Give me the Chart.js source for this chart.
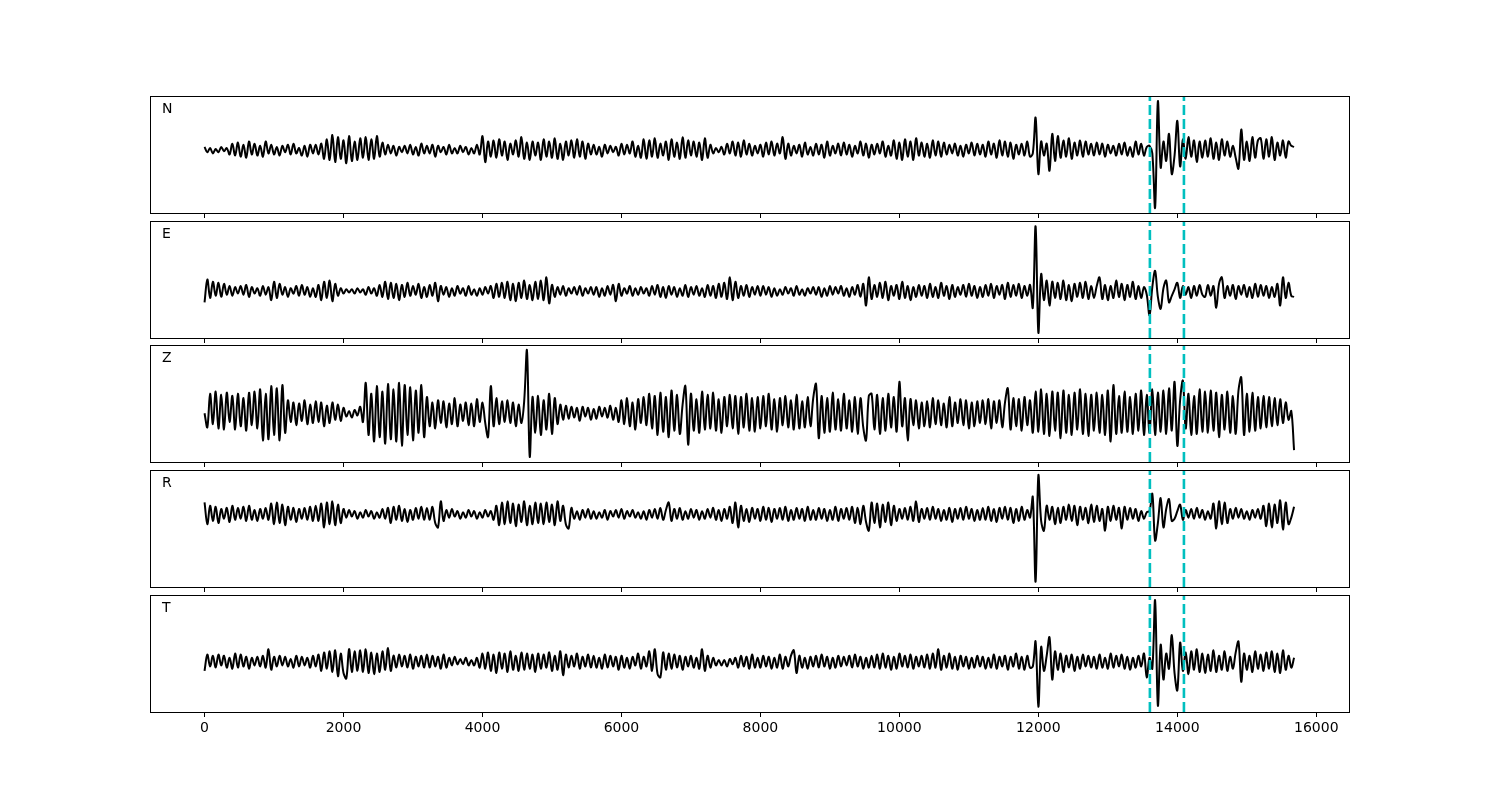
<!DOCTYPE html>
<html>
<head>
<meta charset="utf-8">
<script src="https://cdn.jsdelivr.net/npm/chart.js@4.4.1/dist/chart.umd.min.js"></script>
<style>
  html, body { margin: 0; padding: 0; background: #fff; }
  #wrap { position: relative; width: 1500px; height: 800px; overflow: hidden; }
  #wrap canvas { position: absolute; left: 0; }
</style>
</head>
<body>
<div id="wrap"></div>
<script>
// sample spacing of the traces (x units per value)
const STEP = 40;
const X_MIN = -785;
const X_MAX = 16485;
const X_TICKS = [0, 2000, 4000, 6000, 8000, 10000, 12000, 14000, 16000];
// dashed picks
const PICKS = [13605, 14095];
const PANEL_NAMES = ['N', 'E', 'Z', 'R', 'T'];

// traces, one value every STEP, starting at x = 0
const N_VALUES = [
  3,-2,2,-3,1,-2,3,-1,2,-4,6,-5,7,-6,5,-7,8,-4,6,-5,
  4,-6,8,-3,5,-4,3,-5,4,-2,5,-4,6,-3,2,-5,4,-6,5,-3,
  5,-4,6,-8,10,-9,14,-11,12,-8,9,-12,13,-10,8,-9,11,-7,12,-9,
  10,-8,13,-6,7,-4,5,-3,4,-5,3,-2,4,-3,5,-4,3,-5,6,-3,
  4,-3,5,-6,4,-2,3,-4,5,-3,2,-3,4,-2,3,-4,2,-3,5,-4,
  13,-11,8,-6,9,-7,10,-5,8,-9,6,-4,9,-6,12,-8,7,-9,8,-5,
  7,-9,10,-6,8,-7,11,-8,6,-9,8,-5,9,-7,10,-6,8,-8,6,-4,
  5,-4,3,-6,5,-3,4,-2,3,-5,6,-4,5,-3,8,-6,4,-7,10,-8,
  9,-6,11,-7,6,-5,8,-9,10,-6,7,-8,12,-7,9,-5,8,-6,7,-9,
  11,-7,5,-3,2,-2,3,-4,6,-3,8,-5,7,-6,9,-4,6,-5,4,-3,
  5,-6,7,-4,8,-5,6,-3,12,-8,6,-5,4,-3,5,-6,7,-4,3,-5,
  6,-4,5,-7,8,-5,4,-3,6,-5,7,-4,5,-6,4,-3,8,-5,6,-7,
  5,-4,6,-3,8,-6,4,-5,9,-8,7,-9,10,-6,8,-9,11,-5,7,-6,
  6,-7,9,-5,8,-6,7,-4,5,-3,6,-5,4,-6,5,-3,7,-5,6,-4,
  5,-6,8,-4,6,-7,9,-5,8,-6,7,-8,5,-4,6,-5,8,-6,-3,30,
  -22,8,-5,6,-19,15,-10,13,-7,9,-6,11,-8,7,-5,9,-6,8,-4,6,
  -5,7,-4,6,-6,5,-3,4,-5,6,-4,7,-5,3,-6,8,-4,6,-5,3,
  4,-3,-53,45,-16,8,-10,15,-22,-5,27,-15,10,-8,12,-6,9,-11,8,-7,
  9,-6,11,-8,7,-9,10,-5,8,-6,4,-7,-17,19,-9,8,-10,12,-7,9,
  11,-8,10,-6,12,-9,7,-5,9,-7,8,4,3
];
const E_VALUES = [
  -10,11,-6,9,-4,8,-5,7,-3,5,-4,4,-2,5,-3,6,-5,4,-2,3,
  -4,5,-3,4,-8,9,-6,7,-3,4,-5,3,-2,5,-4,6,-3,4,-5,3,
  -5,6,-8,9,-6,10,-9,7,-4,3,-2,2,-1,2,-2,3,-1,2,-3,4,
  -2,3,-4,6,-5,9,-7,8,-6,7,-8,6,-5,8,-4,5,-3,7,-6,4,
  -5,6,-4,8,-9,5,-3,4,-5,3,-4,5,-2,3,-4,5,-3,2,-4,3,
  -3,4,-2,5,-6,7,-5,8,-6,9,-8,7,-9,8,-6,10,-7,6,-8,9,
  -7,10,-8,13,-11,6,-5,4,-3,5,-4,3,-2,4,-3,5,-4,3,-2,4,
  -3,4,-5,3,-4,5,-3,6,-9,7,-4,3,-2,5,-4,3,-3,4,-2,3,
  -4,5,-3,6,-5,4,-6,5,-3,4,-5,3,-4,6,-5,4,-3,5,-4,3,
  -5,6,-4,5,-6,7,-5,8,-7,13,-8,9,-6,5,-4,6,-5,4,-3,5,
  -4,5,-3,4,-5,3,-4,2,-3,4,-2,3,-4,5,-3,2,-4,3,-2,4,
  -3,4,-5,3,-4,5,-3,4,-2,5,-4,3,-5,4,-3,6,-5,7,-13,13,
  -7,6,-5,8,-6,9,-8,5,-4,6,-7,9,-6,5,-8,4,-5,6,-4,5,
  -6,7,-5,4,-6,8,-4,5,-7,6,-5,4,-3,6,-5,7,-4,5,-6,4,
  -5,6,-4,7,-6,5,-3,6,-7,8,-5,6,-4,7,-6,5,-4,6,-15,60,
  -38,16,-8,10,-13,9,-6,8,-7,10,-8,6,-9,7,-5,8,-6,9,-7,5,
  -6,5,13,-7,6,-8,5,-6,10,-5,7,-8,6,-5,9,-7,5,-6,4,-3,
  -22,4,19,-5,-16,3,10,-10,-4,2,8,-6,5,-3,4,-6,5,-4,6,-3,
  -5,6,-4,5,-15,7,13,-6,5,-4,6,-7,5,-3,6,-5,4,-6,7,-5,
  6,-4,5,-6,4,-5,7,-13,13,-6,8,-4,-5
];
const Z_VALUES = [
  0,-13,18,-10,20,-14,17,-15,19,-8,16,-15,18,-12,14,-16,19,-11,20,-14,
  22,-25,18,-24,25,-20,23,-25,26,-18,12,-8,10,-11,9,-7,12,-10,8,-9,
  11,-8,10,-12,7,-9,10,-6,8,-7,5,-3,2,-4,3,-2,6,-8,28,-20,
  18,-26,25,-22,20,-28,27,-24,22,-26,28,-30,26,-20,24,-25,21,-18,26,-22,
  15,-12,10,-14,12,-9,11,-13,9,-10,14,-12,8,-7,10,-11,9,-12,13,-8,
  10,-9,-22,25,-12,14,-10,11,-8,12,-9,10,-12,8,-9,11,58,-40,15,-18,
  16,-20,12,-15,18,-19,14,-10,8,-6,7,-5,6,-4,5,-7,6,-3,5,-6,
  4,-5,6,-3,5,-4,7,-6,5,-8,12,-10,14,-12,10,-15,13,-9,15,-11,
  18,-14,16,-20,19,-17,15,-22,21,-16,17,-19,8,25,-29,18,-16,13,-18,20,
  -15,17,-14,19,-16,13,-18,15,-12,17,-14,16,-19,15,-13,18,-16,14,-17,15,
  -14,16,-12,18,-15,13,-17,14,-11,16,-13,12,-15,17,-14,11,-13,15,-12,14,
  27,-23,16,-18,14,-17,19,-15,13,-16,18,-14,12,-17,15,-19,14,-13,-25,16,
  18,-15,17,-19,14,-16,18,-13,15,-17,29,-12,14,-25,13,-11,12,-14,10,-12,
  11,-13,14,-10,12,-11,9,-13,15,-12,10,-9,13,-11,12,-14,10,-12,11,-9,
  12,-10,13,-14,11,-9,12,-13,10,23,-15,14,-12,13,-16,15,-11,12,-18,20,
  -17,22,-19,18,-21,20,-16,19,-23,21,-18,17,-20,19,-15,22,-19,18,-21,17,
  -16,19,-18,17,-20,21,-26,26,-19,16,-18,20,-17,15,-19,18,-16,21,-20,17,
  -18,22,-20,19,-17,21,-19,23,-16,29,-30,12,30,-14,18,-20,16,-19,22,-17,
  20,-18,21,-16,19,-22,17,-15,20,-18,16,-19,21,33,-20,18,-17,19,-16,15,
  -14,16,-13,15,-12,14,-11,13,-9,10,-6,2,-34
];
const R_VALUES = [
  11,-9,8,-6,7,-8,5,-4,6,-7,8,-5,6,-4,7,-6,8,-5,4,-6,
  5,-4,6,-5,10,-9,11,-8,9,-10,7,-5,6,-7,5,-4,6,-5,7,-6,
  8,-6,10,-12,11,-9,12,-10,9,-8,5,-3,4,-2,3,-4,2,-3,4,-2,
  3,-4,2,-3,5,-4,6,-8,7,-5,8,-6,5,-7,4,-5,6,-4,7,-5,
  6,-5,7,-8,-12,12,-6,4,-3,5,-2,3,-4,2,-3,4,-2,3,-4,2,
  -3,4,-2,3,-5,8,-10,11,-9,12,-8,10,-11,9,-7,12,-10,8,-9,11,
  -8,10,-9,11,-7,9,-10,12,-6,8,-9,-13,6,-4,3,-5,4,-3,5,-4,
  3,-4,2,-3,4,-5,3,-2,4,-3,5,-4,3,-2,4,-3,2,-4,3,-5,
  4,-3,5,-4,6,-5,4,11,-6,5,-4,6,-5,3,-4,5,-3,4,-5,3,
  -4,5,-3,6,-5,4,-6,5,-4,7,-8,11,-12,8,-6,5,-7,6,-4,5,
  -6,7,-5,6,-7,5,-4,6,-5,7,-6,4,-5,6,-4,5,-6,7,-5,4,
  -5,6,-4,5,-6,4,-5,7,-6,5,-4,6,-5,7,-8,6,-9,8,-7,-15,
  11,-8,10,-12,9,-7,11,-10,8,-6,5,-4,6,-5,7,-6,12,-7,5,-4,
  6,-5,7,-4,5,-6,4,-5,6,-7,5,-4,6,-5,7,-4,5,-6,4,-5,
  6,-5,7,-6,5,-7,6,-4,7,-5,6,-8,5,-6,7,-5,4,-3,16,-62,
  36,-6,-15,8,-5,7,-9,6,-8,7,-5,9,-6,8,-10,7,-5,6,-8,9,
  -7,8,-6,5,-15,7,-6,8,-5,6,-13,7,-5,6,-4,5,-6,3,-4,2,
  3,19,-24,-8,15,-12,5,14,-6,-4,3,9,-5,4,-3,5,-4,6,-3,4,
  -5,3,-4,10,-13,12,-9,11,-8,5,-4,6,-3,5,-4,3,-5,4,-3,5,
  -4,8,-11,10,-12,9,-8,13,-14,11,-9,-3,7
];
const T_VALUES = [
  -8,7,-4,6,-5,7,-3,6,-5,4,-6,8,-5,7,-4,5,-6,4,-3,5,
  -4,6,-5,12,-7,5,-4,6,-3,5,-4,3,-5,6,-4,5,-3,4,-5,6,
  -4,7,-8,9,-6,10,-9,11,-13,8,-10,-15,12,-9,10,-8,11,-9,12,-10,
  9,-11,8,-9,10,-7,13,-8,6,-5,7,-4,6,-5,7,-6,5,-4,6,-5,
  7,-5,6,-4,5,-6,7,-5,4,-3,5,-2,3,-2,4,-3,2,-3,4,-5,
  8,-6,9,-8,7,-10,9,-6,8,-9,10,-7,6,-8,9,-7,8,-6,7,-9,
  8,-6,7,-5,9,-8,6,-7,10,-12,7,-5,6,-4,8,-6,5,-4,7,-5,
  6,-5,4,-6,7,-5,6,-4,5,-7,6,-5,4,-6,5,-3,8,-6,5,-4,
  10,-8,12,-11,-14,9,-7,8,-6,7,-5,6,-7,5,-4,6,-5,4,-6,12,
  -8,6,-5,4,-3,2,-3,2,-4,3,-2,4,-5,6,-4,5,-6,7,-5,4,
  -5,6,-4,5,-6,4,-5,7,-6,5,-4,6,11,-10,6,-5,4,-6,5,-4,
  6,-5,7,-4,5,-6,4,-5,6,-4,5,-3,6,-5,7,-4,5,-6,4,-5,
  6,-5,7,-6,8,-5,6,-7,5,-6,8,-4,6,-5,7,-6,5,-4,6,-5,
  7,-6,8,-5,12,-7,6,-5,8,-6,5,-7,6,-4,5,-6,4,-5,6,-4,
  5,-6,4,-5,7,-6,5,-4,6,-7,5,-4,8,-6,5,-7,6,-5,-4,19,
  -41,14,-8,6,23,-16,10,-7,8,-9,6,-5,7,-8,5,-6,7,-4,6,-5,
  5,-6,7,-5,4,-6,8,-5,6,-4,7,-6,5,-7,4,-5,6,-4,8,-14,
  4,-6,57,-40,16,-16,8,-6,25,-10,-26,18,-8,9,-11,10,-7,12,-9,8,
  -10,7,-8,11,-9,6,-7,10,-8,5,-6,9,19,-18,8,-7,6,-9,10,-6,
  7,-8,9,-6,10,-9,8,-10,11,-7,6,-5,4
];
const PANEL_VALUES = [N_VALUES, E_VALUES, Z_VALUES, R_VALUES, T_VALUES];

// figure layout (px)
const PANEL_TOPS = [96, 221, 345, 470, 595];
const PANEL_H = 117;
const PAD_TOP = 6;

Chart.defaults.font.family = "'DejaVu Sans', sans-serif";
Chart.defaults.font.size = 14;
Chart.defaults.color = '#000';

const frameAndLabel = {
    id: 'frameAndLabel',
    afterDraw(chart, args, opts) {
        const { ctx, chartArea: a } = chart;
        ctx.save();
        ctx.strokeStyle = '#000';
        ctx.lineWidth = 1;
        ctx.strokeRect(Math.round(a.left) + 0.5, Math.round(a.top) + 0.5,
            Math.round(a.right - a.left) - 1, Math.round(a.bottom - a.top));
        ctx.fillStyle = '#000';
        ctx.font = "14px 'DejaVu Sans', sans-serif";
        ctx.textBaseline = 'alphabetic';
        ctx.fillText(opts.name, a.left + 12, a.top + 17);
        ctx.restore();
    }
};

const wrap = document.getElementById('wrap');

PANEL_VALUES.forEach((values, p) => {
    const isLast = p === PANEL_VALUES.length - 1;
    const axisH = isLast ? 40 : 9;
    const canvas = document.createElement('canvas');
    canvas.width = 1500;
    canvas.height = PAD_TOP + PANEL_H + axisH;
    canvas.style.top = (PANEL_TOPS[p] - PAD_TOP) + 'px';
    wrap.appendChild(canvas);

    const points = values.map((v, i) => ({ x: i * STEP, y: v }));
    const vMin = Math.min(...values);
    const vMax = Math.max(...values);
    const margin = (vMax - vMin) * 0.05;
    const yMin = vMin - margin;
    const yMax = vMax + margin;

    const pickSets = PICKS.map(px => ({
        data: [{ x: px, y: yMin }, { x: px, y: yMax }],
        borderColor: '#00bfbf',
        borderWidth: 2.6,
        borderDash: [10, 4],
        pointRadius: 0,
        order: 0
    }));

    new Chart(canvas.getContext('2d'), {
        type: 'line',
        data: {
            datasets: [
                ...pickSets,
                {
                    data: points,
                    borderColor: '#000',
                    borderWidth: 2,
                    pointRadius: 0,
                    tension: 0.35,
                    order: 1
                }
            ]
        },
        options: {
            responsive: false,
            animation: false,
            events: [],
            layout: { padding: { left: 150, right: 150, top: PAD_TOP, bottom: 0 } },
            plugins: {
                legend: { display: false },
                tooltip: { enabled: false },
                frameAndLabel: { name: PANEL_NAMES[p] }
            },
            scales: {
                x: {
                    type: 'linear',
                    min: X_MIN,
                    max: X_MAX,
                    afterBuildTicks: scale => { scale.ticks = X_TICKS.map(v => ({ value: v })); },
                    afterFit: scale => { scale.height = axisH; },
                    border: { display: false },
                    grid: {
                        display: true,
                        drawOnChartArea: false,
                        drawTicks: true,
                        tickLength: 5,
                        tickColor: '#000',
                        tickWidth: 1
                    },
                    ticks: {
                        display: isLast,
                        padding: 3,
                        maxRotation: 0,
                        callback: v => String(v)
                    }
                },
                y: {
                    display: false,
                    min: yMin,
                    max: yMax
                }
            }
        },
        plugins: [frameAndLabel]
    });
});
</script>
</body>
</html>
